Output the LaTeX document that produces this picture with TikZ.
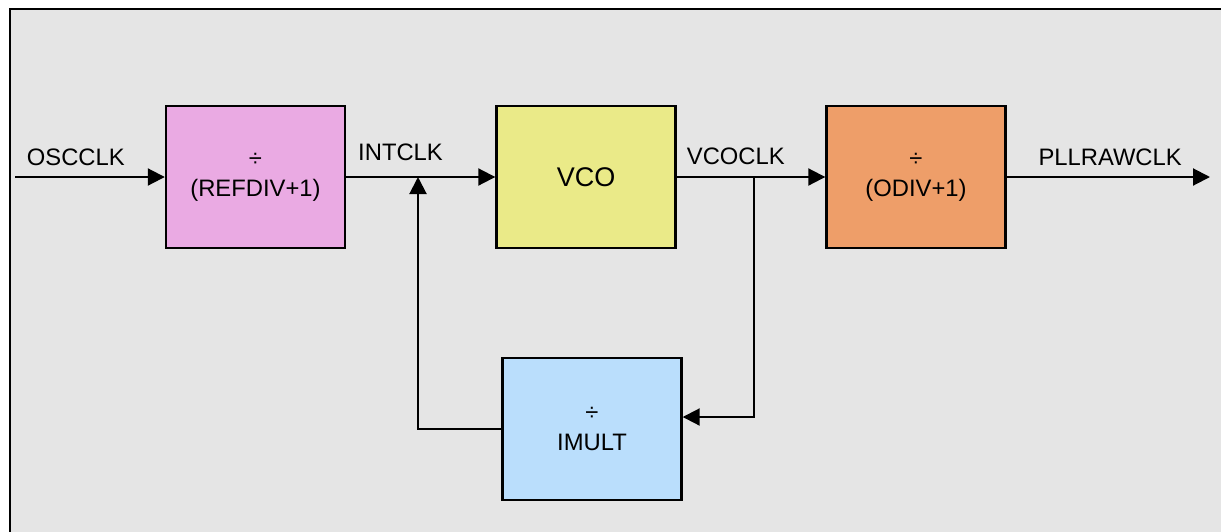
\documentclass[tikz,border=0pt]{standalone}
\usepackage{fontspec}
\setmainfont{Liberation Sans}
\usetikzlibrary{arrows.meta}
\definecolor{bggray}{HTML}{E5E5E5}
\definecolor{pinkbox}{HTML}{EAAAE3}
\definecolor{yellowbox}{HTML}{EAEA88}
\definecolor{orangebox}{HTML}{EE9E69}
\definecolor{bluebox}{HTML}{BADEFC}
\begin{document}
\begin{tikzpicture}[x=1pt,y=-1pt,
  blk/.style={draw=black, line width=2.4pt, minimum width=179pt, minimum height=142pt,
    align=center, inner sep=0pt, font=\fontsize{23.8}{30}\selectfont},
  lbl/.style={font=\fontsize{23.8}{28}\selectfont, inner sep=0pt, anchor=base west},
  conn/.style={line width=2pt, -{Triangle[length=17pt,width=17pt]}}]
\useasboundingbox (0,0) rectangle (1221,531);
\clip (0,0) rectangle (1221,531);
\draw[fill=bggray, line width=2pt] (9.5,9) rectangle (1240,550);

\node[blk, fill=pinkbox]   (ref)   at (255.5,177) {÷\\(REFDIV+1)};
\node[blk, fill=yellowbox, font=\fontsize{27}{30}\selectfont] (vco) at (586,177) {VCO};
\node[blk, fill=orangebox] (odiv)  at (916,177) {÷\\(ODIV+1)};
\node[blk, fill=bluebox]   (imult) at (592,429) {÷\\IMULT};

\coordinate (in)  at (15,177);
\coordinate (j1)  at (418,177);
\coordinate (j2)  at (754,177);
\coordinate (out) at (1210,177);

\draw[conn] (in) -- (ref.west);
\draw[conn] (ref.east) -- (vco.west);
\draw[conn] (imult.west) -| (j1);
\draw[conn] (vco.east) -- (odiv.west);
\draw[conn] (j2) |- ([yshift=12pt]imult.east);
\draw[conn] (odiv.east) -- (out);

\node[lbl] (losc)  at (26.7,165)  {OSCCLK};
\node[lbl] (lint)  at (358,160)   {INTCLK};
\node[lbl] (lvco)  at (686.7,164.3) {VCOCLK};
\node[lbl] (lpll)  at (1038.3,165) {PLLRAWCLK};
\end{tikzpicture}
\end{document}
